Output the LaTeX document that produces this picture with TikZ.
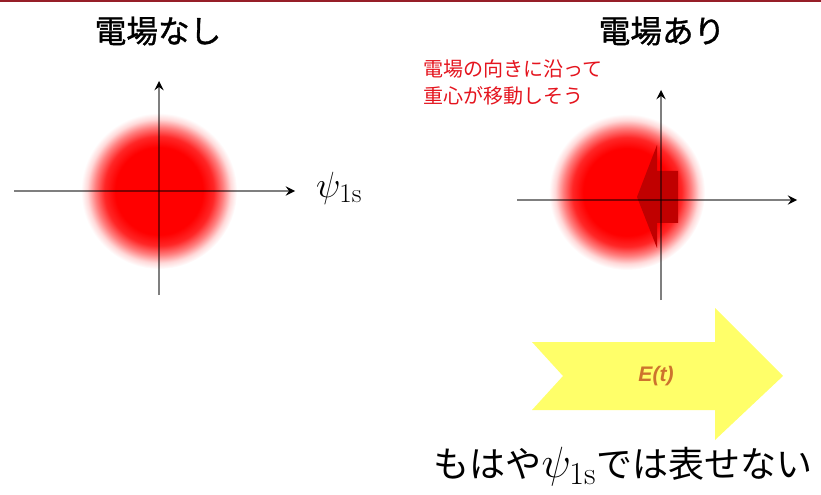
\documentclass[tikz,border=0pt]{standalone}
\usepackage{fontspec}
\newfontfamily\jpfont{Noto Sans CJK JP}
\newfontfamily\jphead[FakeBold=1.2]{Noto Sans CJK JP}
\newfontfamily\labelfont{Liberation Sans}

\definecolor{rulered}{RGB}{150,30,40}
\definecolor{notered}{RGB}{228,20,30}
\definecolor{shiftred}{RGB}{192,0,0}
\definecolor{fieldyellow}{RGB}{255,255,105}
\definecolor{fieldlabel}{RGB}{205,115,45}

% red electron cloud: flat core, soft rim
\pgfdeclareradialshading{redcloud}{\pgfpoint{0bp}{0bp}}{%
  color(0bp)=(red); color(14bp)=(red); color(17.5bp)=(red!85);
  color(20.5bp)=(red!50); color(23bp)=(red!15);
  color(25bp)=(white); color(50bp)=(white)}

\begin{document}
\begin{tikzpicture}[x=0.02cm,y=0.02cm,
  axis/.style={->,>=stealth,line width=1.3pt,draw=black,draw opacity=0.5},
  title/.style={font=\jphead\fontsize{18}{21}\selectfont}]
  \useasboundingbox (0,0) rectangle (821,494);
  \draw[rulered,line width=0.04cm] (0,493) -- (821,493);

  % no field: 1s cloud sits on the origin
  \begin{scope}
    \shade[shading=redcloud] (159,303) circle (78);
    \coordinate (lx0) at (14,303);
    \coordinate (lx1) at (295,303);
    \coordinate (ly0) at (159,199);
    \coordinate (ly1) at (159,413);
    \draw[axis] (lx0) -- (lx1);
    \draw[axis] (ly0) -- (ly1);
    \node[title] (nofield) at (158,463) {電場なし};
    \node[anchor=west,font=\fontsize{22}{26}\selectfont] (psi) at (310,306)
      {$\psi_{\mathrm{1s}}$};
  \end{scope}

  % field on: cloud pulled to the left
  \begin{scope}
    \shade[shading=redcloud] (627,302) circle (78);
    \fill[shiftred] (637,297) -- (657,349) -- (657,323) -- (678,323)
      -- (678,271) -- (657,271) -- (657,246) -- cycle;
    \coordinate (rx0) at (517,294);
    \coordinate (rx1) at (797,294);
    \coordinate (ry0) at (661,194);
    \coordinate (ry1) at (661,404);
    \draw[axis] (rx0) -- (rx1);
    \draw[axis] (ry0) -- (ry1);
    \node[title] (withfield) at (662,463) {電場あり};
    \node[align=left,text=notered,inner sep=0pt,
      font=\jpfont\fontsize{11.4}{15.4}\selectfont] (shiftnote) at (513,412)
      {電場の向きに沿って\\重心が移動しそう};
  \end{scope}

  % field E(t) as a block arrow
  \fill[fieldyellow] (532,152) -- (715,152) -- (715,186) -- (783,118)
    -- (715,54) -- (715,84) -- (532,84) -- (563,118) -- cycle;
  \node[text=fieldlabel,font=\labelfont\bfseries\itshape\fontsize{12}{14}\selectfont]
    (efield) at (656,118) {E(t)};

  \node[font=\jpfont\fontsize{20.5}{24}\selectfont] (verdict) at (623,27)
    {もはや{\fontsize{26}{30}\selectfont$\psi_{\mathrm{1s}}$}では表せない};
\end{tikzpicture}
\end{document}
